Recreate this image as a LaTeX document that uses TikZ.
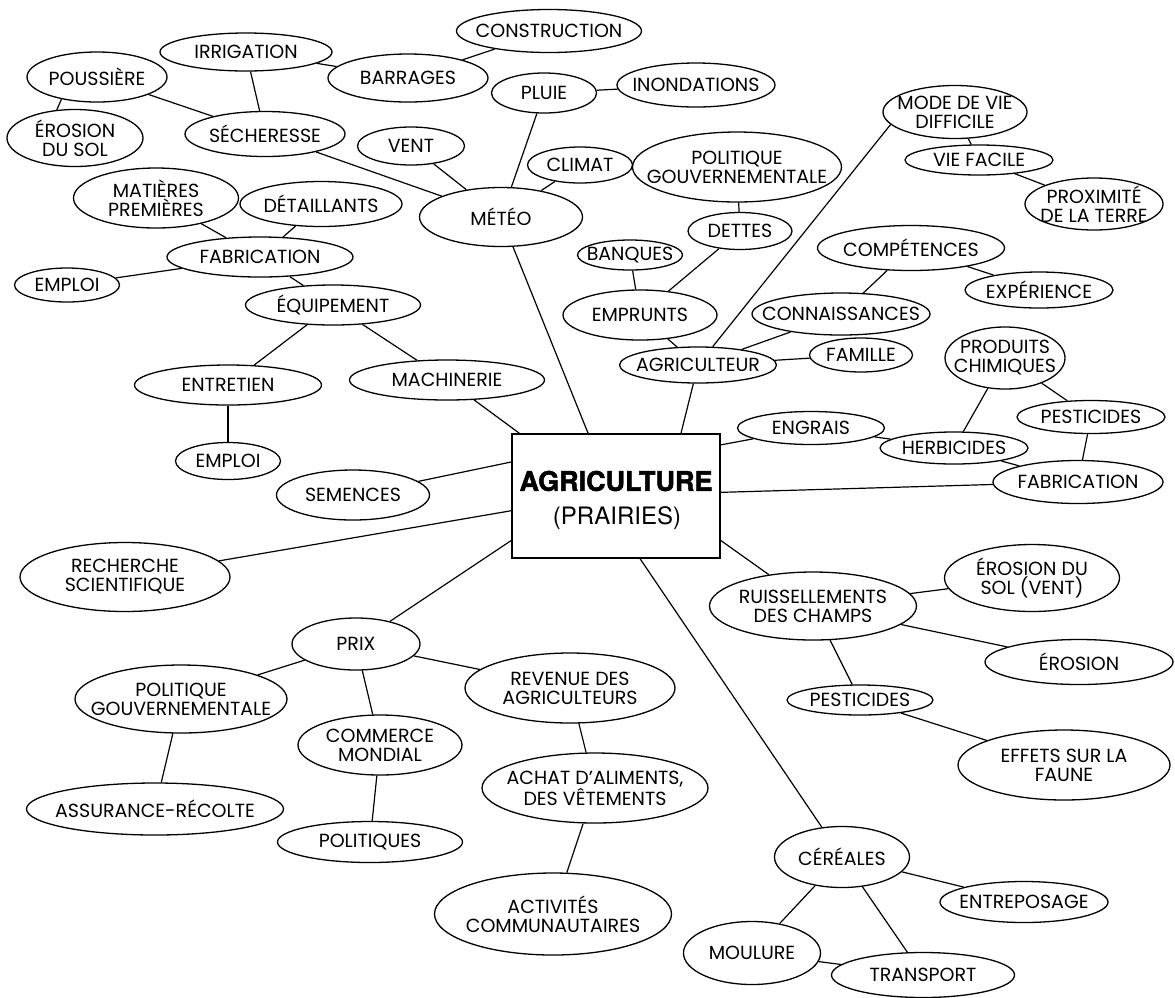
\documentclass[tikz,border=0pt]{standalone}
\usepackage{fontspec}
\setmainfont{Poppins}
\newfontfamily\heros{TeX Gyre Heros}[BoldFeatures={FakeBold=1.8}]
\usetikzlibrary{shapes.geometric}
\tikzset{
  elp/.style={ellipse, draw, line width=1.3pt, inner sep=0pt},
  lbl/.style={align=center, font=\fontsize{19}{19}\selectfont, inner sep=0pt},
  conn/.style={line width=1.2pt},
  centerbox/.style={draw, line width=1.5pt, minimum width=208pt, minimum height=124pt, inner sep=0pt},
}
\newcommand{\En}[6]{\node[elp, minimum width=#4pt, minimum height=#5pt, label={[lbl]center:{#6}}] (#1) at (#2,#3) {};}
\begin{document}
\begin{tikzpicture}[x=1pt,y=-1pt]
\useasboundingbox (0,0) rectangle (1175,997);
% top left
\En{pous}{97}{77}{140}{50}{POUSSIÈRE}
\En{irr}{246}{52}{172}{38}{IRRIGATION}
\En{eros}{75}{138}{136}{57}{ÉROSION\\DU SOL}
\En{sech}{265}{134}{160}{45}{SÉCHERESSE}
\En{barr}{408}{78}{160}{48}{BARRAGES}
\En{constr}{549}{31}{185}{43}{CONSTRUCTION}
\En{pluie}{544}{93}{105}{40}{PLUIE}
\En{inond}{696}{85}{158}{44}{INONDATIONS}
\En{vent}{411}{146}{107}{38}{VENT}
\En{meteo}{501}{217}{163}{59}{MÉTÉO}
\En{climat}{580}{165}{105}{36}{CLIMAT}
\En{polg}{737}{167}{209}{70}{POLITIQUE\\GOUVERNEMENTALE}
\En{dettes}{740}{231}{104}{37}{DETTES}
\En{banq}{630}{255}{105}{30}{BANQUES}
\En{empr}{640}{315}{154}{50}{EMPRUNTS}
% top right
\En{mode}{955}{112}{144}{53}{MODE DE VIE\\DIFFICILE}
\En{viefac}{979}{160}{148}{30}{VIE FACILE}
\En{prox}{1094}{204}{138}{52}{PROXIMITÉ\\DE LA TERRE}
\En{comp}{911}{248}{187}{45}{COMPÉTENCES}
\En{exper}{1039}{290}{148}{36}{EXPÉRIENCE}
\En{conn}{841}{314}{178}{42}{CONNAISSANCES}
\En{famille}{861}{355}{103}{34}{FAMILLE}
\En{agr}{698}{365}{157}{36}{AGRICULTEUR}
% left
\En{mat}{156}{198}{165}{60}{MATIÈRES\\PREMIÈRES}
\En{detail}{321}{204}{162}{45}{DÉTAILLANTS}
\En{fabl}{260}{257}{186}{40}{FABRICATION}
\En{emp1}{67}{285}{105}{34}{EMPLOI}
\En{equip}{333}{305}{175}{40}{ÉQUIPEMENT}
\En{entr}{228}{385}{187}{40}{ENTRETIEN}
\En{emp2}{228}{461}{105}{37}{EMPLOI}
\En{mach}{447}{380}{195}{40}{MACHINERIE}
\En{sem}{353}{495}{153}{50}{SEMENCES}
\En{rech}{125}{577}{210}{69}{RECHERCHE\\SCIENTIFIQUE}
% bottom left
\En{prix}{356}{644}{128}{52}{PRIX}
\En{polb}{181}{699}{212}{68}{POLITIQUE\\GOUVERNEMENTALE}
\En{assur}{155}{809}{257}{52}{ASSURANCE-RÉCOLTE}
\En{comm}{380}{745}{164}{60}{COMMERCE\\MONDIAL}
\En{polit}{370}{842}{185}{41}{POLITIQUES}
\En{rev}{570}{688}{210}{70}{REVENUE DES\\AGRICULTEURS}
\En{achat}{595}{788}{226}{70}{ACHAT D'ALIMENTS,\\DES VÊTEMENTS}
\En{activ}{553}{914}{237}{82}{ACTIVITÉS\\COMMUNAUTAIRES}
% right
\En{engr}{811}{428}{147}{33}{ENGRAIS}
\En{herb}{954}{448}{148}{32}{HERBICIDES}
\En{prod}{1005}{358}{120}{62}{PRODUITS\\CHIMIQUES}
\En{pestr}{1091}{417}{148}{33}{PESTICIDES}
\En{fabr}{1078}{482}{170}{43}{FABRICATION}
\En{ruis}{813}{606}{207}{68}{RUISSELLEMENTS\\DES CHAMPS}
\En{erosv}{1032}{578}{175}{67}{ÉROSION DU\\SOL (VENT)}
\En{erosion}{1079}{662}{188}{45}{ÉROSION}
\En{pestl}{860}{700}{146}{30}{PESTICIDES}
\En{effets}{1064}{765}{212}{70}{EFFETS SUR LA\\FAUNE}
\En{cer}{842}{857}{135}{61}{CÉRÉALES}
\En{entrep}{1024}{902}{168}{41}{ENTREPOSAGE}
\En{moul}{752}{953}{137}{63}{MOULURE}
\En{transp}{923}{975}{183}{45}{TRANSPORT}
% centre
\node[centerbox] (box) at (616,496) {};
\node[inner sep=0pt, font=\heros\bfseries\fontsize{27}{30}\selectfont] (boxt1) at (616,481) {AGRICULTURE};
\node[inner sep=0pt, font=\heros\fontsize{24}{26}\selectfont] (boxt2) at (617,518) {(PRAIRIES)};
% connectors
\draw[conn] (pous.212) -- (eros.123);
\draw[conn] (pous) -- (sech);
\draw[conn] (irr) -- (sech);
\draw[conn] (irr) -- (barr);
\draw[conn] (barr) -- (constr);
\draw[conn] (sech) -- (meteo);
\draw[conn] (vent) -- (meteo);
\draw[conn] (pluie) -- (meteo);
\draw[conn] (pluie) -- (inond);
\draw[conn] (climat) -- (meteo);
\draw[conn] (climat) -- (polg);
\draw[conn] (polg) -- (dettes);
\draw[conn] (dettes) -- (empr);
\draw[conn] (banq) -- (empr);
\draw[conn] (empr) -- (agr);
\draw[conn] (agr) -- (conn);
\draw[conn] (agr) -- (mode.191);
\draw[conn] (mode) -- (viefac);
\draw[conn] (viefac) -- (prox);
\draw[conn] (conn) -- (comp);
\draw[conn] (comp) -- (exper);
\draw[conn] (agr) -- (famille);
\draw[conn] (box.44) -- (agr);
\draw[conn] (box.114) -- (meteo);
\draw[conn] (box.147) -- (mach);
\draw[conn] (mach) -- (equip);
\draw[conn] (equip) -- (entr);
\draw[conn] (entr) -- (emp2);
\draw[conn] (equip) -- (fabl);
\draw[conn] (fabl) -- (mat);
\draw[conn] (fabl) -- (detail);
\draw[conn] (fabl) -- (emp1);
\draw[conn] (box.162) -- (sem);
\draw[conn] (box.188) -- (rech);
\draw[conn] (box.203) -- (prix);
\draw[conn] (prix) -- (polb);
\draw[conn] (polb) -- (assur);
\draw[conn] (prix) -- (comm);
\draw[conn] (comm) -- (polit);
\draw[conn] (prix) -- (rev);
\draw[conn] (rev) -- (achat);
\draw[conn] (achat) -- (activ);
\draw[conn] (box.291) -- (cer);
\draw[conn] (cer) -- (entrep);
\draw[conn] (cer) -- (moul);
\draw[conn] (cer) -- (transp);
\draw[conn] (moul) -- (transp);
\draw[conn] (box.337) -- (ruis);
\draw[conn] (ruis) -- (erosv);
\draw[conn] (ruis) -- (erosion);
\draw[conn] (ruis) -- (pestl);
\draw[conn] (pestl) -- (effets);
\draw[conn] (box.2) -- (fabr);
\draw[conn] (box.26) -- (engr);
\draw[conn] (engr) -- (herb);
\draw[conn] (herb) -- (prod);
\draw[conn] (prod) -- (pestr);
\draw[conn] (pestr) -- (fabr);
\draw[conn] (herb) -- (fabr);
\end{tikzpicture}
\end{document}
